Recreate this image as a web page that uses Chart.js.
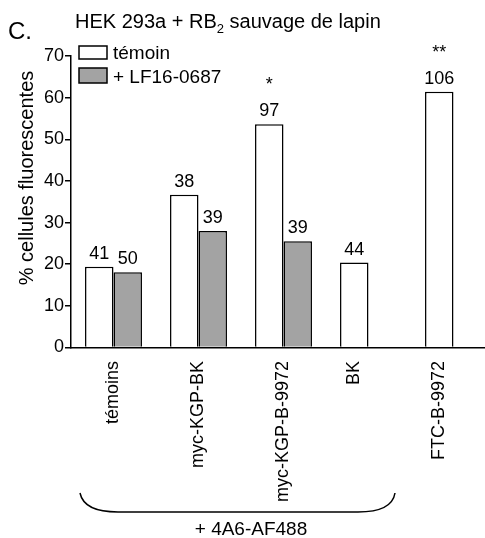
<!DOCTYPE html>
<html>
<head>
<meta charset="utf-8">
<script src="https://cdn.jsdelivr.net/npm/chart.js@4/dist/chart.umd.min.js"></script>
<style>
    html, body { margin: 0; padding: 0; background: #fff; }
    #frame { width: 485px; height: 538px; overflow: hidden; }
    #wrap { width: 500px; height: 538px; }
</style>
</head>
<body>
<div id="frame"><div id="wrap"><canvas id="chart"></canvas></div></div>
<script>
// Chart data
const categories = ["témoins", "myc-KGP-BK", "myc-KGP-B-9972", "BK", "FTC-B-9972"];
const controlValues = [19.4, 36.7, 53.6, 20.4, 61.4];
const inhibitorValues = [18.1, 28.0, 25.5, null, null];
const controlCounts = ["41", "38", "97", "44", "106"];
const inhibitorCounts = ["50", "39", "39", null, null];
const stars = ["", "", "*", "", "**"];
const yTicks = [0, 10, 20, 30, 40, 50, 60, 70];

const FONT = "'Liberation Sans', Arial, sans-serif";

/**
 * Draws titles, legend, bar labels, rotated category labels and the brace
 */
const decorPlugin = {
    id: "decor",
    afterDraw(chart) {
        const ctx = chart.ctx;
        ctx.save();
        ctx.fillStyle = "#000";
        ctx.strokeStyle = "#000";

        // Panel letter
        ctx.font = `24px ${FONT}`;
        ctx.textAlign = "left";
        ctx.textBaseline = "alphabetic";
        ctx.fillText("C.", 8, 39);

        // Title with subscript
        ctx.font = `20px ${FONT}`;
        let x = 75;
        ctx.fillText("HEK 293a + RB", x, 28);
        x += ctx.measureText("HEK 293a + RB").width;
        ctx.font = `13px ${FONT}`;
        ctx.fillText("2", x, 33);
        x += ctx.measureText("2").width;
        ctx.font = `20px ${FONT}`;
        ctx.fillText(" sauvage de lapin", x, 28);

        // Legend
        ctx.lineWidth = 1.5;
        ctx.fillStyle = "#fff";
        ctx.fillRect(79, 46, 28, 13);
        ctx.strokeRect(79, 46, 28, 13);
        ctx.fillStyle = "#a3a3a3";
        ctx.fillRect(79, 68, 28, 15);
        ctx.strokeRect(79, 68, 28, 15);
        ctx.fillStyle = "#000";
        ctx.font = `19px ${FONT}`;
        ctx.fillText("témoin", 113, 59);
        ctx.fillText("+ LF16-0687", 113, 83);

        // Y axis title
        ctx.save();
        ctx.translate(33, 178);
        ctx.rotate(-Math.PI / 2);
        ctx.font = `20px ${FONT}`;
        ctx.textAlign = "center";
        ctx.fillText("% cellules fluorescentes", 0, 0);
        ctx.restore();

        // Counts above bars
        const metaA = chart.getDatasetMeta(0).data;
        const metaB = chart.getDatasetMeta(1).data;
        ctx.font = `18px ${FONT}`;
        ctx.textAlign = "center";
        categories.forEach((cat, i) => {
            const a = metaA[i];
            const baseA = a.y - 8;
            ctx.fillText(controlCounts[i], a.x, baseA);
            if (stars[i]) ctx.fillText(stars[i], a.x, baseA - 26);
            const b = metaB[i];
            if (inhibitorValues[i] !== null && b) ctx.fillText(inhibitorCounts[i], b.x, b.y - 8);
        });

        // Category labels (centered under the bars that exist)
        categories.forEach((cat, i) => {
            const a = metaA[i];
            const b = metaB[i];
            const cx = inhibitorValues[i] !== null ? (a.x + b.x) / 2 : a.x;
            ctx.save();
            ctx.translate(cx, 361);
            ctx.rotate(-Math.PI / 2);
            ctx.textAlign = "right";
            ctx.textBaseline = "middle";
            ctx.fillText(cat, 0, 0);
            ctx.restore();
        });

        // Brace under the first four groups
        ctx.lineWidth = 1.5;
        ctx.beginPath();
        ctx.moveTo(80, 493);
        ctx.quadraticCurveTo(84, 512, 118, 512);
        ctx.lineTo(358, 512);
        ctx.quadraticCurveTo(392, 512, 395, 493);
        ctx.stroke();

        ctx.font = `19px ${FONT}`;
        ctx.textAlign = "center";
        ctx.textBaseline = "alphabetic";
        ctx.fillText("+ 4A6-AF488", 251, 535);

        ctx.restore();
    },
};

new Chart(document.getElementById("chart"), {
    type: "bar",
    data: {
        labels: categories,
        datasets: [
            {
                label: "témoin",
                data: controlValues,
                backgroundColor: "#fff",
                borderColor: "#000",
                borderWidth: 1.5,
            },
            {
                label: "+ LF16-0687",
                data: inhibitorValues,
                backgroundColor: "#a3a3a3",
                borderColor: "#000",
                borderWidth: 1.5,
            },
        ],
    },
    options: {
        responsive: true,
        maintainAspectRatio: false,
        animation: false,
        datasets: { bar: { categoryPercentage: 0.67, barPercentage: 1.0 } },
        layout: { padding: { top: 56, right: 4, left: 0, bottom: 0 } },
        scales: {
            x: {
                ticks: { display: false },
                grid: { display: false },
                border: { display: true, color: "#000", width: 1.5 },
                afterFit: (scale) => { scale.height = 190.5; },
            },
            y: {
                min: 0,
                max: 70,
                afterBuildTicks: (scale) => { scale.ticks = yTicks.map((v) => ({ value: v })); },
                ticks: { color: "#000", font: { size: 18, family: FONT }, padding: 1 },
                grid: { drawOnChartArea: false, drawTicks: true, tickLength: 6, color: "#000", lineWidth: 1.5 },
                border: { display: true, color: "#000", width: 1.5 },
                afterFit: (scale) => { scale.width = 71; },
            },
        },
        plugins: {
            legend: { display: false },
            tooltip: { enabled: false },
        },
    },
    plugins: [decorPlugin],
});
</script>
</body>
</html>
